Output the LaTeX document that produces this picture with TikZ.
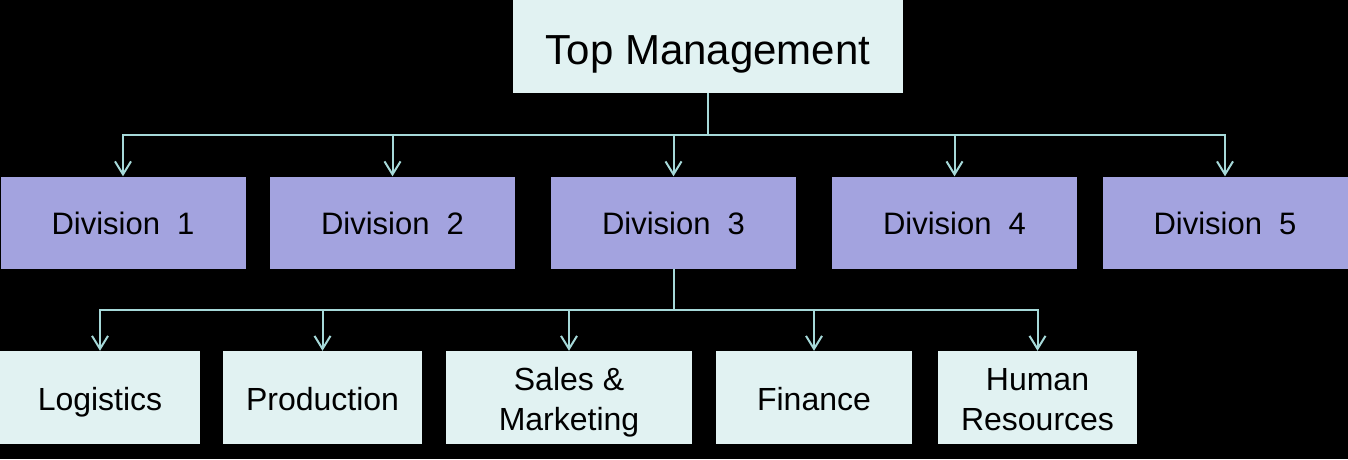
\documentclass[tikz,border=0pt]{standalone}
\usepackage{fontspec}
\setmainfont{Liberation Sans}
\usetikzlibrary{arrows.meta}
\definecolor{mint}{HTML}{E1F2F2}
\definecolor{lav}{HTML}{A3A3DF}
\definecolor{linec}{HTML}{A6D9D9}
\tikzset{
  topbox/.style={rectangle, fill=mint, minimum width=390pt, minimum height=93pt, inner sep=0pt, text height=35pt, text depth=0pt, font=\fontsize{42}{48}\selectfont},
  divbox/.style={rectangle, fill=lav, minimum width=245pt, minimum height=92pt, inner sep=0pt, text height=24pt, text depth=0pt, font=\fontsize{31}{36}\selectfont},
  depbox/.style={rectangle, fill=mint, minimum height=93pt, inner sep=0pt, align=center, text height=26.5pt, text depth=0pt, font=\fontsize{32}{40}\selectfont},
  twoline/.style={text height=66.5pt},
  conn/.style={draw=linec, line width=2pt, -{Straight Barb[length=13pt,width=16pt,line width=2pt]}}
}
\begin{document}
\begin{tikzpicture}[x=1pt,y=1pt]
\fill[black] (0,0) rectangle (1348,-459);
\useasboundingbox (0,0) rectangle (1348,-459);
\node[topbox] (top) at (708,-46.5) {Top Management};
\node[divbox] (d1) at (123,-222.5) {Division\ \ 1};
\node[divbox] (d2) at (392.5,-222.5) {Division\ \ 2};
\node[divbox] (d3) at (673.5,-222.5) {Division\ \ 3};
\node[divbox] (d4) at (954.5,-222.5) {Division\ \ 4};
\node[divbox] (d5) at (1225,-222.5) {Division\ \ 5};
\node[depbox, minimum width=200pt] (b1) at (100,-397.5) {Logistics};
\node[depbox, minimum width=199pt] (b2) at (322.5,-397.5) {Production};
\node[depbox, twoline, minimum width=246pt] (b3) at (569,-397.5) {Sales \&\\Marketing};
\node[depbox, minimum width=196pt] (b4) at (814,-397.5) {Finance};
\node[depbox, twoline, minimum width=199pt] (b5) at (1037.5,-397.5) {Human\\Resources};
\coordinate (bus1) at (0,-135);
\coordinate (bus2) at (0,-310);
\foreach \d in {d1,d2,d3,d4,d5}{
  \draw[conn] (top.south) -- (top.south |- bus1) -| (\d.north);
}
\foreach \b in {b1,b2,b3,b4,b5}{
  \draw[conn] (d3.south) -- (d3.south |- bus2) -| (\b.north);
}
\end{tikzpicture}
\end{document}
